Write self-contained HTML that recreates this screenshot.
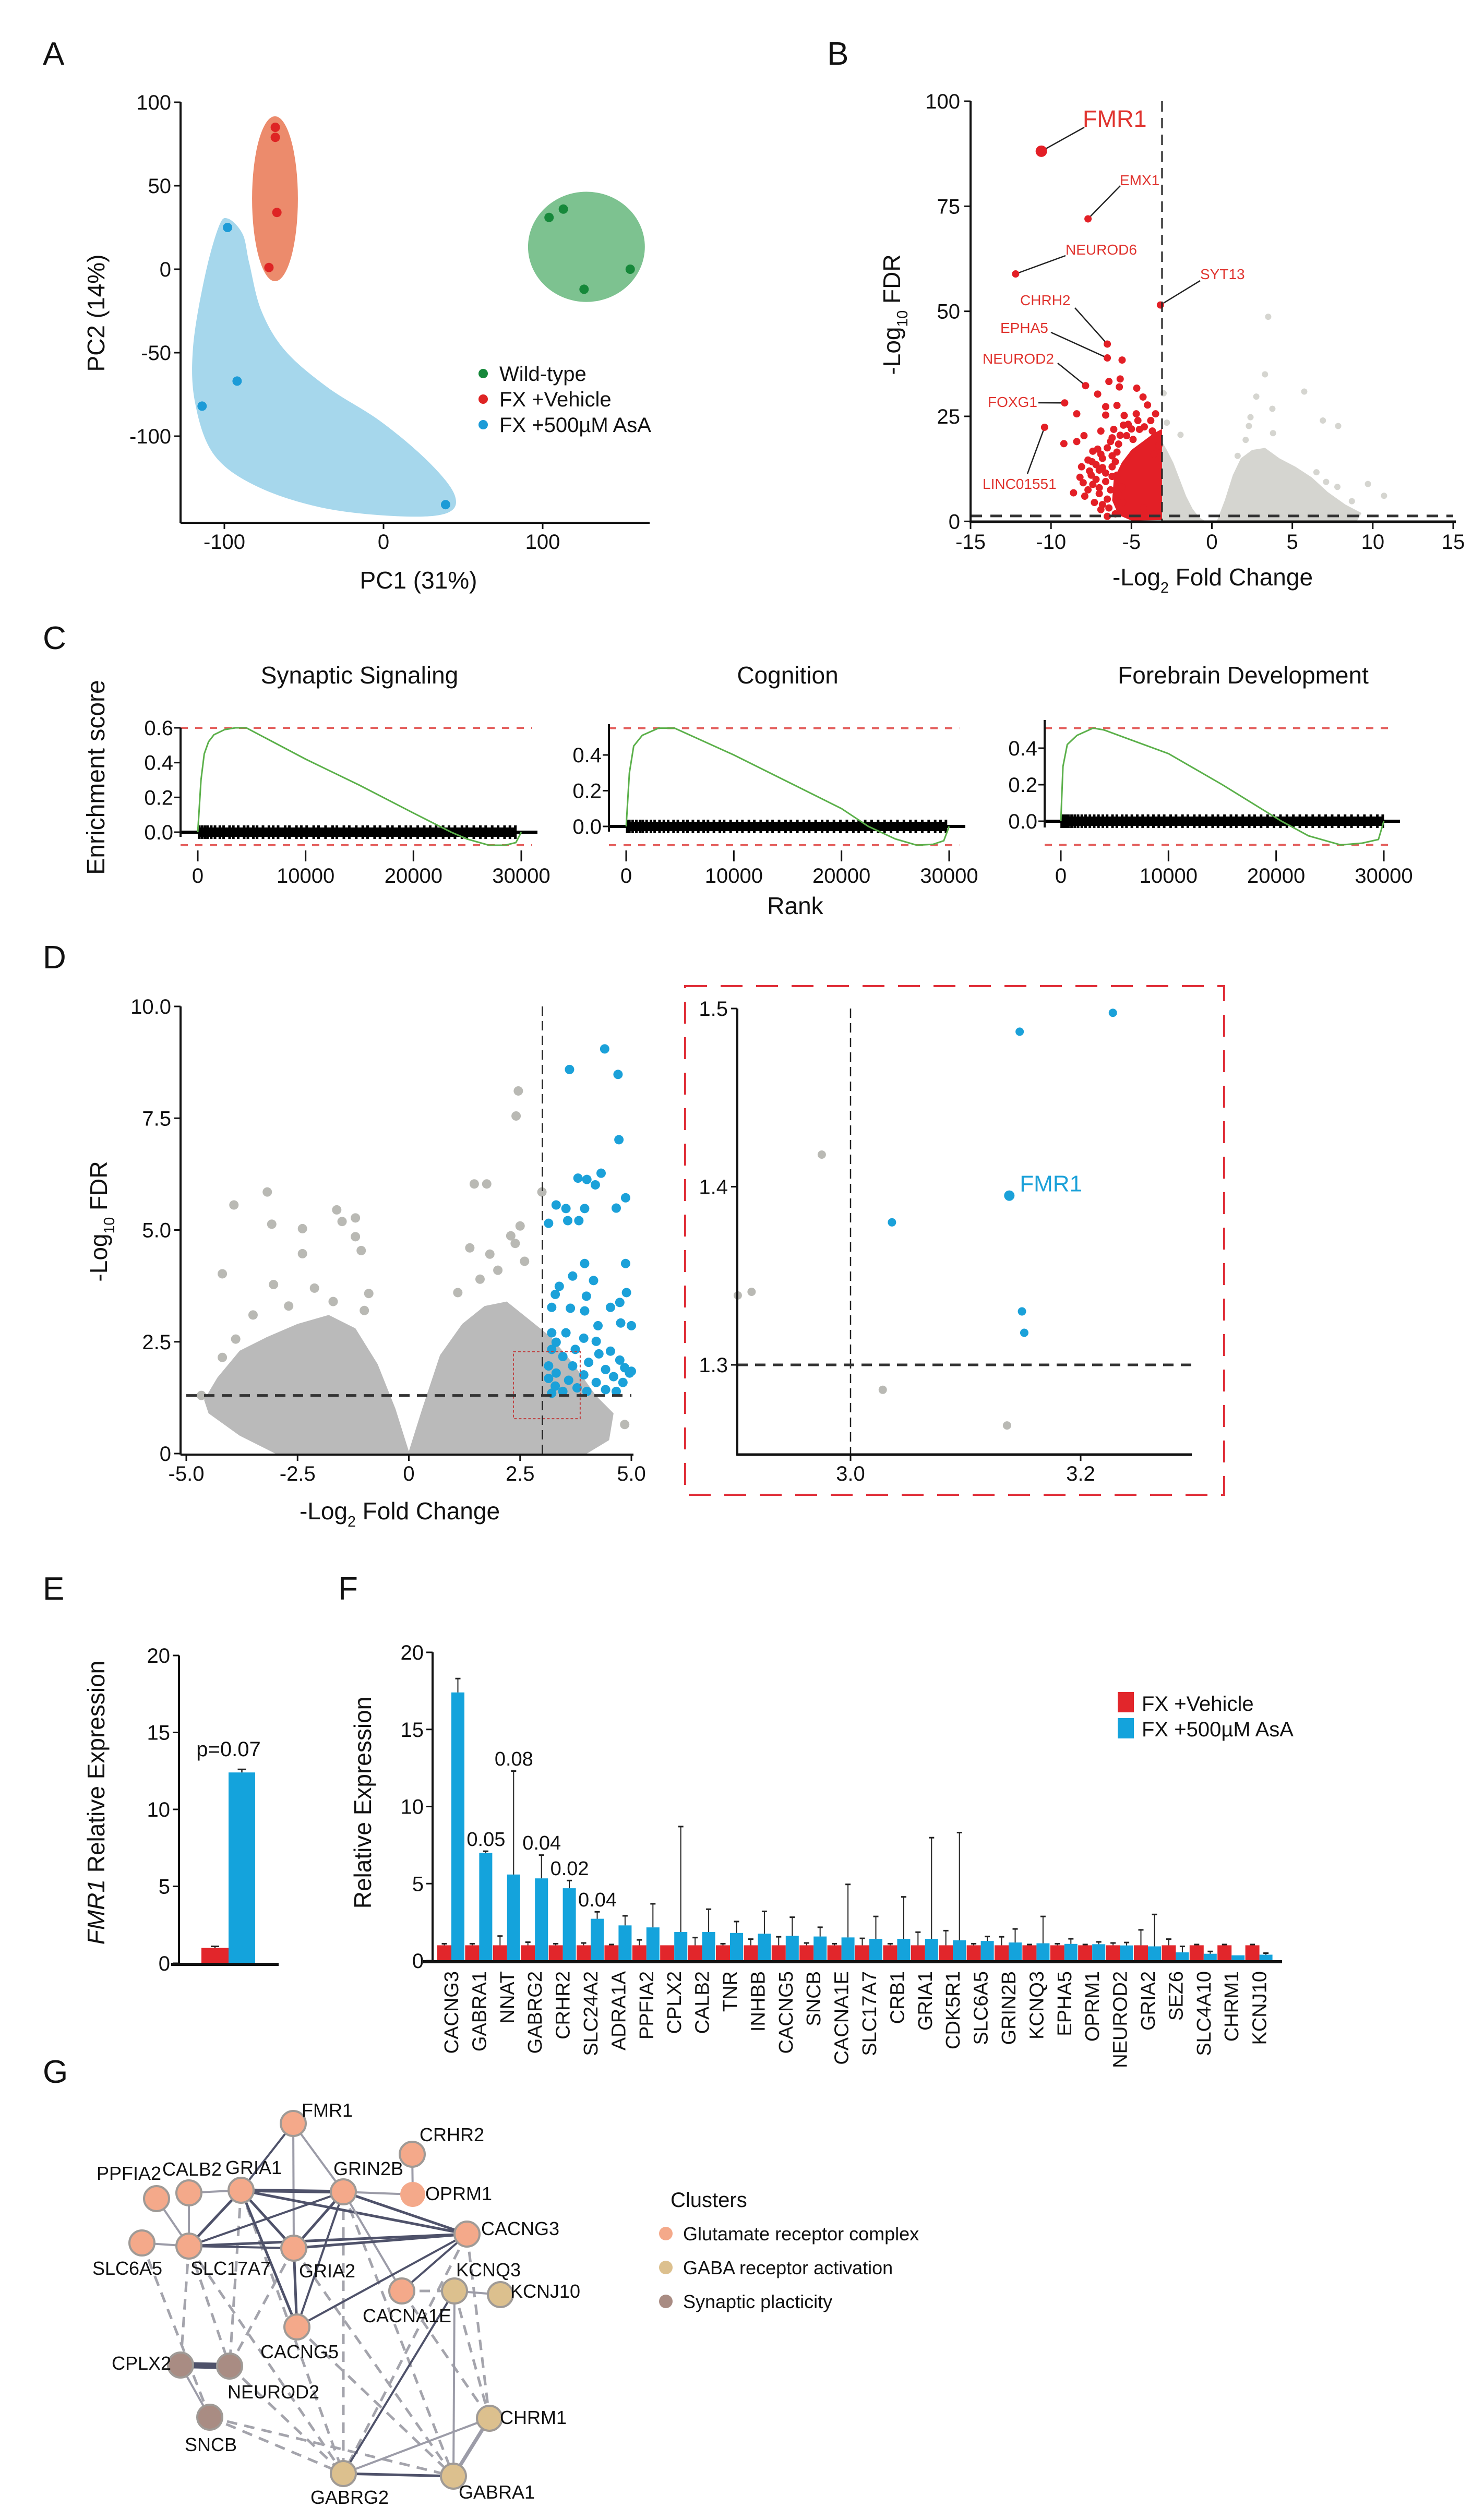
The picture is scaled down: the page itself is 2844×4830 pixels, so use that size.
<!DOCTYPE html>
<html><head><meta charset="utf-8">
<style>
body{margin:0;background:#fff}
svg{display:block;font-family:"Liberation Sans",Arial,sans-serif}
</style></head>
<body>
<svg id="fig" width="2844" height="4830" viewBox="0 0 2844 4830" xmlns="http://www.w3.org/2000/svg"></svg>
<script>
// ---------------- DATA ----------------
const pcaWT=[[104,31],[113,36],[155,0],[126,-12]];
const pcaVeh=[[-68,85],[-68,79],[-67,34],[-72,1]];
const pcaAsA=[[-98,25],[-92,-67],[-114,-82],[39,-141]];
const pcaVehHull=[-68.2,42.2,14.4,49.4];
const pcaWTHull=[127.5,13.4,36.7,33];
const pcaAsAHull=[[-97.7,30.3],[-88.5,21],[-84.3,3.4],[-76.7,-25],[-61.6,-49],[-34.8,-71],[-2,-91],[27.9,-115],[44.6,-135],[40,-146],[10.2,-148],[-37.7,-143],[-79.7,-130],[-106.6,-111],[-118.4,-80],[-119.7,-47],[-112.5,-5.3],[-103.6,25.3]];
const pcaYTicks=[100,50,0,-50,-100];
const pcaXTicks=[-100,0,100];
const pcaLegend=["Wild-type","FX +Vehicle","FX +500\u00b5M AsA"];

const bNames=["FMR1","EMX1","NEUROD6","SYT13","CHRH2","EPHA5","NEUROD2","FOXG1","LINC01551"];
const bNamedX=[-10.6,-7.7,-12.2,-3.2,-6.5,-6.5,-7.85,-9.15,-10.4];
const bNamedY=[88.1,72.0,58.9,51.5,42.2,38.9,32.3,28.2,22.4];
const bRedPts=[[-5.58,38.4],[-5.7,33.9],[-6.4,33.3],[-5.75,32],[-4.67,31.7],[-7.1,30.3],[-4.28,29.6],[-4.0,27.7],[-6.6,27.3],[-5.9,27.6],[-8.4,25.6],[-6.6,25.3],[-5.45,25.2],[-4.7,25.6],[-3.5,25.6],[-3.8,24],[-4.5,21.9],[-6.1,21.9],[-6.9,21.5],[-5.5,22.9],[-5.2,23.1],[-3.7,21.5],[-7.95,20.4],[-6.2,19.9],[-5.3,20.4],[-8.4,19],[-9.2,18.5],[-5.8,18.4],[-7.4,16.7],[-6.9,16],[-6.2,15.6],[-7.7,14.6],[-7.45,14.2],[-6.0,14.2],[-7.0,12.2],[-6.2,10.7],[-8.0,9.2],[-7.4,8.8],[-7.7,7.5],[-7.0,6.6],[-6.5,5.3],[-5.6,8.2],[-5.55,4.5],[-4.25,3.2],[-3.3,18],[-3.6,16],[-4.9,19.5],[-6.6,11.5],[-7.2,10],[-6.8,4],[-7.6,12],[-7.2,13.5],[-6.8,15],[-8.2,10.5],[-7.9,6],[-7.3,4.5],[-6.9,2.8],[-6.4,3.2],[-6.3,7.5],[-6.6,9.5],[-5.9,11],[-5.8,6.5],[-6.2,13],[-6.8,12.8],[-7.5,11],[-6.0,1.8],[-6.5,1.2],[-7.0,8],[-8.6,6.8],[-8.1,13],[-5.9,16.5],[-6.5,17.5],[-7.1,17.2],[-6.3,19],[-5.7,20.5],[-5.0,22],[-4.6,24],[-4.2,22.5]];
const bRedCore=[[-3.1,0.3],[-3.1,22],[-3.6,21],[-4.3,19],[-5.0,17],[-5.6,14],[-6.1,10],[-6.2,5],[-5.8,1.5],[-5.0,0.2]];
const bGrayLeft=[[-3.1,0],[-3.1,19],[-2.8,17],[-2.4,14],[-2,10],[-1.6,6],[-1.2,3],[-0.8,1],[-0.4,0]];
const bGrayRight=[[0.3,0],[0.8,5],[1.3,11],[1.8,15],[2.5,17],[3.3,17.5],[4.2,15],[5.2,13],[6.2,10.5],[7.2,7],[8.3,4],[9.3,2],[9.0,0]];
const bGrayPts=[[3.5,48.7],[3.3,35],[5.74,30.9],[2.76,29.7],[3.76,26.8],[2.4,24.8],[6.9,24],[7.85,22.7],[2.3,22.7],[3.8,21],[2.1,19.4],[-3.0,30.5],[-2.8,23.5],[-1.95,20.6],[1.6,15.6],[4.9,12.4],[9.7,8.9],[10.7,6.1],[8.7,4.8],[6.5,11.7],[7.1,9.4],[7.8,8.2]];
const bYTicks=[0,25,50,75,100];
const bXTicks=[-15,-10,-5,0,5,10,15];
const bFCcut=-3.1, bFDRcut=1.3;

const gseaTitles=["Synaptic Signaling","Cognition","Forebrain Development"];
const es1Rank=[0,300,600,1000,1500,2500,3500,4500,10000,15000,20000,23500,25000,27000,28500,29500,30000];
const es1Val=[0,0.3,0.45,0.52,0.56,0.59,0.6,0.6,0.42,0.27,0.11,0,-0.04,-0.075,-0.075,-0.06,0];
const es2Rank=[0,300,700,1500,3000,4500,10000,15000,20000,22500,25000,27000,28500,29500,30000];
const es2Val=[0,0.3,0.45,0.51,0.55,0.55,0.4,0.25,0.1,0,-0.07,-0.105,-0.1,-0.08,0];
const es3Rank=[0,200,600,1500,3000,4000,10000,15000,20500,23000,26000,28000,29500,30000];
const es3Val=[0,0.3,0.42,0.47,0.51,0.5,0.37,0.2,0,-0.08,-0.13,-0.12,-0.1,0];
const hits1=[120,380,650,900,1250,1600,2050,2400,2950,3300,3750,4300,4650,5150,5500,6050,6600,7000,7450,8100,8500,9150,9600,10100,10750,11200,11850,12500,12900,13550,14050,14700,15300,15750,16400,16900,17600,18050,18700,19300,19750,20400,21000,21550,22100,22750,23300,23850,24500,24950,25600,26200,26700,27300,27850,28450,28950,29450];
const hits2=[100,300,600,950,1300,1550,1900,2300,2650,3100,3500,3900,4400,4800,5300,5700,6200,6700,7200,7600,8150,8700,9100,9700,10300,10800,11400,11900,12500,13100,13600,14200,14800,15300,15900,16500,17000,17600,18200,18700,19300,19900,20500,21100,21600,22200,22800,23400,24000,24600,25200,25800,26400,26900,27500,28100,28700,29200,29700];
const hits3=[80,250,480,700,1000,1300,1600,1950,2300,2700,3100,3500,3900,4300,4800,5200,5700,6100,6600,7100,7600,8100,8600,9100,9600,10200,10700,11300,11800,12400,12900,13500,14100,14600,15200,15800,16300,16900,17500,18000,18600,19200,19800,20400,21000,21600,22200,22800,23400,24000,24600,25200,25800,26400,27000,27600,28200,28800,29400,29900];
const c1YTicks=[0,0.2,0.4,0.6], c2YTicks=[0,0.2,0.4], c3YTicks=[0,0.2,0.4];
const cXTicks=[0,10000,20000,30000];

const dBlue=[[4.40,9.05],[3.61,8.59],[4.70,8.48],[4.72,7.02],[4.32,6.27],[3.80,6.16],[4.0,6.13],[4.19,6.01],[4.87,5.72],[3.31,5.56],[3.53,5.48],[3.95,5.48],[4.66,5.49],[3.14,5.15],[3.57,5.21],[3.82,5.21],[3.95,4.25],[4.87,4.25],[3.68,3.97],[4.15,3.87],[3.38,3.74],[3.29,3.56],[4.89,3.60],[3.99,3.52],[4.74,3.38],[3.21,3.27],[3.63,3.25],[3.95,3.19],[4.53,3.27],[4.76,2.92],[5.0,2.86],[4.25,2.86],[3.21,2.70],[3.53,2.70],[3.93,2.58],[3.31,2.49],[4.21,2.51],[3.74,2.33],[3.21,2.33],[4.53,2.29],[3.46,2.17],[4.27,2.23],[4.04,2.04],[4.74,2.09],[3.14,1.96],[3.68,1.96],[4.42,1.88],[4.85,1.92],[4.96,1.80],[3.31,1.80],[3.93,1.76],[4.6,1.72],[3.14,1.68],[3.59,1.64],[4.21,1.59],[4.81,1.59],[3.29,1.51],[3.78,1.47],[4.42,1.43],[3.46,1.39],[4.0,1.39],[4.66,1.39],[3.21,1.35],[5.0,1.84]];
const dGrayPts=[[2.46,8.11],[2.41,7.55],[1.47,6.03],[1.75,6.03],[2.99,5.85],[-3.18,5.85],[-3.93,5.56],[-1.62,5.45],[-1.20,5.27],[-1.50,5.19],[-3.08,5.13],[-2.39,5.03],[2.50,5.09],[2.29,4.87],[-1.20,4.85],[1.37,4.60],[2.39,4.70],[-1.07,4.54],[-2.39,4.47],[1.82,4.46],[-4.19,4.02],[-3.04,3.78],[-2.12,3.70],[-0.9,3.58],[-4.19,2.15],[-4.66,1.30],[-3.89,2.56],[4.85,0.65],[-2.7,3.3],[-1.7,3.4],[1.1,3.6],[1.6,3.9],[2.0,4.1],[2.6,4.3],[-3.5,3.1],[-1.0,3.2]];
const dGrayHull=[[-4.6,1.2],[-4.3,1.7],[-3.8,2.3],[-3.2,2.6],[-2.5,2.9],[-1.8,3.1],[-1.2,2.8],[-0.7,2.0],[-0.3,1.0],[0,0.05],[0.3,1.0],[0.7,2.2],[1.2,2.9],[1.7,3.3],[2.2,3.4],[2.7,3.0],[3.2,2.6],[3.7,2.0],[4.2,1.3],[4.6,0.9],[4.5,0.3],[4.0,0],[-3.0,0],[-3.8,0.4],[-4.5,0.9]];
const dYTicks=[0,2.5,5,7.5,10], dYLabels=["0","2.5","5.0","7.5","10.0"];
const dXTicks=[-5,-2.5,0,2.5,5], dXLabels=["-5.0","-2.5","0","2.5","5.0"];
const dBox=[2.35,3.85,0.78,2.28];
const zBlue=[[3.228,1.4976],[3.147,1.487],[3.036,1.380],[3.149,1.330],[3.151,1.318]];
const zFMR1=[3.138,1.395];
const zGray=[[2.975,1.418],[3.028,1.286],[3.136,1.266],[2.914,1.341],[2.902,1.339]];
const zYTicks=[1.3,1.4,1.5], zXTicks=[3.0,3.2];

const eValues=[1.0,12.4], eErr=[1.1,12.6], ePText="p=0.07";
const eYTicks=[0,5,10,15,20];

const genes=["CACNG3","GABRA1","NNAT","GABRG2","CRHR2","SLC24A2","ADRA1A","PPFIA2","CPLX2","CALB2","TNR","INHBB","CACNG5","SNCB","CACNA1E","SLC17A7","CRB1","GRIA1","CDK5R1","SLC6A5","GRIN2B","KCNQ3","EPHA5","OPRM1","NEUROD2","GRIA2","SEZ6","SLC4A10","CHRM1","KCNJ10"];
const vehVals=[1.0,1.0,1.0,1.0,1.0,1.0,1.0,1.0,1.0,1.0,1.0,1.0,1.0,1.0,1.0,1.0,1.0,1.0,1.0,1.0,1.0,1.0,1.0,1.0,1.0,1.0,1.0,1.0,1.0,1.0];
const vehErr=[1.1,1.1,1.6,1.2,1.1,1.15,1.05,1.35,1.0,1.5,1.1,1.4,1.55,1.15,1.1,1.45,1.1,1.85,1.95,1.1,1.55,1.05,1.1,1.05,1.15,2.0,1.4,1.05,1.05,1.05];
const asaVals=[17.4,6.99,5.59,5.34,4.7,2.72,2.29,2.16,1.86,1.86,1.8,1.75,1.61,1.57,1.51,1.42,1.42,1.42,1.32,1.28,1.18,1.13,1.09,1.07,0.99,0.93,0.54,0.45,0.35,0.39];
const asaErr=[18.3,7.1,12.3,6.85,5.2,3.17,2.91,3.69,8.7,3.34,2.54,3.2,2.82,2.17,4.95,2.87,4.14,7.98,8.31,1.57,2.06,2.87,1.42,1.22,1.18,3.0,0.93,0.6,0.35,0.49];
const pGenes=[1,2,3,4,5], pTexts=["0.05","0.08","0.04","0.02","0.04"];
const fYTicks=[0,5,10,15,20];

const nodeNames=["FMR1","CRHR2","GRIA1","GRIN2B","OPRM1","PPFIA2","CALB2","CACNG3","SLC6A5","SLC17A7","GRIA2","CACNA1E","KCNQ3","KCNJ10","CACNG5","CPLX2","NEUROD2","SNCB","CHRM1","GABRG2","GABRA1"];
const nodeCluster=[0,0,0,0,0,0,0,0,0,0,0,0,1,1,0,2,2,2,1,1,1];
const solidEdges=[["FMR1","GRIA1",4,0],["FMR1","GRIN2B",4,1],["FMR1","GRIA2",4,1],["GRIA1","GRIN2B",7,0],["GRIA1","CACNG3",5,0],["GRIA1","SLC17A7",5,0],["GRIA1","GRIA2",5,0],["GRIA1","CACNG5",5,0],["CALB2","GRIA1",4,1],["GRIN2B","OPRM1",4,1],["GRIN2B","SLC17A7",4,0],["GRIN2B","GRIA2",5,0],["GRIN2B","CACNG3",5,0],["GRIN2B","CACNG5",4,0],["GRIN2B","CACNA1E",4,1],["CRHR2","OPRM1",4,1],["CALB2","SLC17A7",4,1],["PPFIA2","SLC17A7",4,1],["SLC6A5","SLC17A7",4,1],["SLC17A7","CACNG3",5,0],["SLC17A7","GRIA2",4,0],["GRIA2","CACNG3",5,0],["GRIA2","CACNG5",5,0],["CACNG3","CACNG5",4,0],["CACNG3","CACNA1E",4,0],["KCNQ3","KCNJ10",4,1],["CPLX2","NEUROD2",12,0],["CPLX2","SNCB",4,1],["KCNQ3","GABRG2",4,0],["KCNQ3","GABRA1",4,1],["GABRG2","GABRA1",5,0],["GABRG2","CHRM1",4,1],["CHRM1","GABRA1",7,1]];
const dashedEdges=[["SLC6A5","SNCB"],["SLC17A7","NEUROD2"],["SLC17A7","CPLX2"],["GRIA2","NEUROD2"],["GRIA2","GABRA1"],["GRIA1","GABRG2"],["GRIN2B","GABRA1"],["GRIN2B","GABRG2"],["CACNG3","GABRG2"],["CACNG5","GABRA1"],["SNCB","GABRG2"],["SNCB","GABRA1"],["KCNQ3","CHRM1"],["CACNA1E","KCNQ3"],["NEUROD2","GABRG2"],["SLC17A7","GABRG2"],["GRIA1","NEUROD2"],["CACNG3","CHRM1"],["CACNA1E","CHRM1"]];
const clusterNames=["Glutamate receptor complex","GABA receptor activation","Synaptic placticity"];

// ---------------- HELPERS ----------------
const NS="http://www.w3.org/2000/svg";
const svg=document.getElementById('fig');
function mk(tag,attrs,parent){const e=document.createElementNS(NS,tag);for(const k in attrs)e.setAttribute(k,attrs[k]);(parent||svg).appendChild(e);return e;}
function nm(e,name){
  
  
  return e;}
function lin(d0,d1,r0,r1){return v=>r0+(v-d0)*(r1-r0)/(d1-d0);}
function txt(x,y,s,size,o,parent){o=o||{};const e=mk('text',{x:x,y:y,'font-size':size,fill:o.fill||'#111','text-anchor':o.anchor||'start'},parent);if(o.rot)e.setAttribute('transform','rotate('+o.rot+' '+x+' '+y+')');if(o.style)e.setAttribute('font-style',o.style);e.textContent=s;return e;}
function line(x1,y1,x2,y2,st,w,parent,dash){const e=mk('line',{x1:x1,y1:y1,x2:x2,y2:y2,stroke:st,'stroke-width':w},parent);if(dash)e.setAttribute('stroke-dasharray',dash);return e;}
function crPath(pts){let n=pts.length,d='M'+pts[0][0]+','+pts[0][1];for(let i=0;i<n;i++){const p0=pts[(i-1+n)%n],p1=pts[i],p2=pts[(i+1)%n],p3=pts[(i+2)%n];d+=' C'+(p1[0]+(p2[0]-p0[0])/6)+','+(p1[1]+(p2[1]-p0[1])/6)+' '+(p2[0]-(p3[0]-p1[0])/6)+','+(p2[1]-(p3[1]-p1[1])/6)+' '+p2[0]+','+p2[1];}return d+'Z';}
function poly(pts){return pts.map(p=>p[0]+','+p[1]).join(' ');}
function group(name){const g=mk('g',{});nm(g,name);return g;}
function panelLetter(l,x,y){nm(txt(x,y,l,62,{}),'panel-label-'+l.toLowerCase());}
function subLabel(x,y,pre,sub,post,size,rot,parent){const e=mk('text',{x:x,y:y,'font-size':size,fill:'#111','text-anchor':'middle'},parent);if(rot)e.setAttribute('transform','rotate('+rot+' '+x+' '+y+')');e.appendChild(document.createTextNode(pre));const t=mk('tspan',{dy:size*0.3,'font-size':size*0.62},e);t.textContent=sub;const t2=mk('tspan',{dy:-size*0.3},e);t2.textContent=post;return e;}

// ---------------- PANEL A ----------------
(function(){
const g=group('panel-a-pca');
panelLetter('A',82,124);
const X=lin(-100,100,430,1040),Y=lin(-100,100,836,196);
const hb=mk('path',{d:crPath(pcaAsAHull.map(p=>[X(p[0]),Y(p[1])])),fill:'#a6d7ec'},g);nm(hb,'asa-cluster-hull');
const hr=mk('ellipse',{cx:X(pcaVehHull[0]),cy:Y(pcaVehHull[1]),rx:pcaVehHull[2]*3.05,ry:pcaVehHull[3]*3.2,fill:'#ec8b6c'},g);nm(hr,'vehicle-cluster-hull');
const hg=mk('ellipse',{cx:X(pcaWTHull[0]),cy:Y(pcaWTHull[1]),rx:pcaWTHull[2]*3.05,ry:pcaWTHull[3]*3.2,fill:'#7dc290'},g);nm(hg,'wildtype-cluster-hull');
[[pcaWT,'#16883a','wildtype'],[pcaVeh,'#de2424','vehicle'],[pcaAsA,'#1c9bd7','asa']].forEach(s=>{s[0].forEach(p=>{const c=mk('circle',{cx:X(p[0]),cy:Y(p[1]),r:9,fill:s[1]},g);nm(c,s[2]+'-point');});});
nm(line(346,196,346,1002,'#111',4,g),'y-axis');
nm(line(346,1002,1245,1002,'#111',4,g),'x-axis');
pcaYTicks.forEach(v=>{line(334,Y(v),346,Y(v),'#111',3,g);nm(txt(328,Y(v)+14,String(v),40,{anchor:'end'},g),'y-tick-label');});
pcaXTicks.forEach(v=>{line(X(v),1002,X(v),1014,'#111',3,g);nm(txt(X(v),1052,String(v),40,{anchor:'middle'},g),'x-tick-label');});
nm(txt(200,600,'PC2 (14%)',46,{anchor:'middle',rot:-90},g),'y-axis-title');
nm(txt(802,1128,'PC1 (31%)',46,{anchor:'middle'},g),'x-axis-title');
const cols=['#16883a','#de2424','#1c9bd7'];
pcaLegend.forEach((s,i)=>{const y=716+i*49;nm(mk('circle',{cx:926,cy:y,r:9,fill:cols[i]},g),'legend-marker');nm(txt(957,y+14,s,40,{},g),'legend-entry');});
})();

// ---------------- PANEL B ----------------
(function(){
const g=group('panel-b-volcano');
panelLetter('B',1585,124);
const X=lin(-15,15,1860,2785),Y=lin(25,100,798,194);
nm(mk('polygon',{points:poly(bGrayLeft.map(p=>[X(p[0]),Y(p[1])])),fill:'#d5d5d0'},g),'ns-gene-cloud');
nm(mk('polygon',{points:poly(bGrayRight.map(p=>[X(p[0]),Y(p[1])])),fill:'#d5d5d0'},g),'ns-gene-cloud');
bGrayPts.forEach(p=>{nm(mk('circle',{cx:X(p[0]),cy:Y(p[1]),r:6,fill:'#d5d5d0'},g),'ns-gene-point');});
nm(mk('polygon',{points:poly(bRedCore.map(p=>[X(p[0]),Y(p[1])])),fill:'#e31f26'},g),'sig-gene-cloud');
bRedPts.forEach(p=>{nm(mk('circle',{cx:X(p[0]),cy:Y(p[1]),r:7,fill:'#e31f26'},g),'sig-gene-point');});
const lab=[[2075,243,2078,244,45],[2146,355,2147,356,28],[2042,488,2042,490,28],[2300,535,2300,538,28],[1955,585,2060,590,28],[1917,638,2014,637,28],[1883,697,2027,696,28],[1893,780,1990,772,28],[1883,937,1969,908,28]];
bNames.forEach((n,i)=>{const px=X(bNamedX[i]),py=Y(bNamedY[i]);nm(line(px,py,lab[i][2],lab[i][3],'#222',2.5,g),'leader-line');nm(mk('circle',{cx:px,cy:py,r:i==0?11:7,fill:'#e31f26'},g),'labeled-gene-point');nm(txt(lab[i][0],lab[i][1],n,lab[i][4],{fill:'#e0342f'},g),'gene-label');});
nm(line(X(bFCcut),194,X(bFCcut),999,'#222',3,g,'20,12'),'fold-change-threshold');
nm(line(1860,Y(bFDRcut),2785,Y(bFDRcut),'#333',5,g,'22,16'),'fdr-threshold');
nm(line(1860,194,1860,1000,'#111',4,g),'y-axis');
nm(line(1858,1000,2790,1000,'#111',5,g),'x-axis');
bYTicks.forEach(v=>{line(1848,Y(v),1860,Y(v),'#111',3,g);nm(txt(1840,Y(v)+14,String(v),40,{anchor:'end'},g),'y-tick-label');});
bXTicks.forEach(v=>{line(X(v),1000,X(v),1014,'#111',3,g);nm(txt(X(v),1052,String(v),40,{anchor:'middle'},g),'x-tick-label');});
nm(subLabel(1725,603,'-Log','10',' FDR',46,-90,g),'y-axis-title');
nm(subLabel(2324,1122,'-Log','2',' Fold Change',46,0,g),'x-axis-title');
})();

// ---------------- PANEL C ----------------
(function(){
const g=group('panel-c-gsea');
panelLetter('C',82,1244);
const cfg=[
 {ax:346,x0:379,x1:999,y0:1595,y1:1395,v1:0.6,top:1395,bot:1604,r:es1Rank,v:es1Val,h:hits1,t:c1YTicks},
 {ax:1167,x0:1200,x1:1819,y0:1584,y1:1447,v1:0.4,top:1388,bot:1594,r:es2Rank,v:es2Val,h:hits2,t:c2YTicks},
 {ax:2002,x0:2033,x1:2652,y0:1574,y1:1434,v1:0.4,top:1380,bot:1586,r:es3Rank,v:es3Val,h:hits3,t:c3YTicks}];
cfg.forEach((c,k)=>{
 const pg=mk('g',{},g);nm(pg,'gsea-plot-'+(k+1));
 const X=lin(0,30000,c.x0,c.x1),Y=lin(0,c.v1,c.y0,c.y1);
 nm(txt((c.x0+c.x1)/2+(k==2?40:0),1310,gseaTitles[k],46,{anchor:'middle'},pg),'plot-title');
 const mx=Math.max(...c.v),mn=Math.min(...c.v);
 nm(line(c.ax,Y(mx),X(31000),Y(mx),'#e4605e',4,pg,'14,14'),'max-es-line');
 nm(line(c.ax,Y(mn),X(31000),Y(mn),'#e4605e',4,pg,'14,14'),'min-es-line');
 nm(line(c.ax,c.y0,X(31500),c.y0,'#000',6,pg),'zero-baseline');
 const hmin=Math.min(...c.h),hmax=Math.max(...c.h);
 nm(mk('rect',{x:X(hmin),y:c.y0-9,width:X(hmax)-X(hmin),height:18,fill:'#000'},pg),'hit-band');
 c.h.forEach(r=>{nm(line(X(r),c.y0-13,X(r),c.y0+13,'#000',5,pg),'hit-tick');});
 nm(mk('polyline',{points:poly(c.r.map((r,i)=>[X(r),Y(c.v[i])])),fill:'none',stroke:'#5bb04a','stroke-width':3},pg),'enrichment-curve');
 nm(line(c.ax,c.top,c.ax,c.bot,'#111',4,pg),'y-axis');
 c.t.forEach(v=>{line(c.ax-12,Y(v),c.ax,Y(v),'#111',3,pg);nm(txt(c.ax-14,Y(v)+14,v.toFixed(1),40,{anchor:'end'},pg),'y-tick-label');});
 cXTicks.forEach(v=>{line(X(v),1630,X(v),1651,'#111',3,pg);nm(txt(X(v),1692,String(v),40,{anchor:'middle'},pg),'x-tick-label');});
});
nm(txt(200,1490,'Enrichment score',48,{anchor:'middle',rot:-90},g),'y-axis-title');
nm(txt(1524,1752,'Rank',46,{anchor:'middle'},g),'x-axis-title');
})();

// ---------------- PANEL D ----------------
(function(){
const g=group('panel-d-volcano');
panelLetter('D',82,1856);
const X=lin(-5,5,357,1210),Y=lin(0,10,2786,1929);
nm(mk('polygon',{points:poly(dGrayHull.map(p=>[X(p[0]),Y(p[1])])),fill:'#bababa'},g),'ns-gene-cloud');
dGrayPts.forEach(p=>{nm(mk('circle',{cx:X(p[0]),cy:Y(p[1]),r:9,fill:'#b9b9b4'},g),'ns-gene-point');});
dBlue.forEach(p=>{nm(mk('circle',{cx:X(p[0]),cy:Y(p[1]),r:9,fill:'#1ba1d9'},g),'sig-gene-point');});
nm(mk('rect',{x:X(dBox[0]),y:Y(dBox[3]),width:X(dBox[1])-X(dBox[0]),height:Y(dBox[2])-Y(dBox[3]),fill:'none',stroke:'#c04040','stroke-width':2,'stroke-dasharray':'5,4'},g),'zoom-region-box');
nm(line(X(3),1929,X(3),2786,'#222',2.5,g,'18,10'),'fold-change-threshold');
nm(line(X(-5),Y(1.3),X(5),Y(1.3),'#333',5,g,'20,14'),'fdr-threshold');
nm(line(346,1929,346,2788,'#111',4,g),'y-axis');
nm(line(346,2788,1214,2788,'#111',4,g),'x-axis');
dYTicks.forEach((v,i)=>{line(334,Y(v),346,Y(v),'#111',3,g);nm(txt(328,Y(v)+14,dYLabels[i],40,{anchor:'end'},g),'y-tick-label');});
dXTicks.forEach((v,i)=>{line(X(v),2788,X(v),2800,'#111',3,g);nm(txt(X(v),2838,dXLabels[i],40,{anchor:'middle'},g),'x-tick-label');});
nm(subLabel(205,2341,'-Log','10',' FDR',46,-90,g),'y-axis-title');
nm(subLabel(766,2912,'-Log','2',' Fold Change',46,0,g),'x-axis-title');
const z=group('panel-d-zoom-inset');
nm(mk('rect',{x:1313,y:1890,width:1033,height:975,fill:'none',stroke:'#e0303a','stroke-width':4,'stroke-dasharray':'42,26'},z),'inset-frame');
const ZX=lin(3.0,3.2,1630,2071),ZY=lin(1.3,1.5,2616,1933);
nm(line(ZX(3.0),1933,ZX(3.0),2788,'#222',2.5,z,'18,10'),'fold-change-threshold');
nm(line(1413,ZY(1.3),2284,ZY(1.3),'#333',5,z,'20,14'),'fdr-threshold');
zGray.forEach(p=>{nm(mk('circle',{cx:ZX(p[0]),cy:ZY(p[1]),r:8,fill:'#b9b9b4'},z),'ns-gene-point');});
zBlue.forEach(p=>{nm(mk('circle',{cx:ZX(p[0]),cy:ZY(p[1]),r:8,fill:'#1ba1d9'},z),'sig-gene-point');});
nm(mk('circle',{cx:ZX(zFMR1[0]),cy:ZY(zFMR1[1]),r:10,fill:'#1ba1d9'},z),'fmr1-point');
nm(txt(ZX(zFMR1[0])+20,ZY(zFMR1[1])-8,'FMR1',44,{fill:'#1ba1d9'},z),'fmr1-label');
nm(line(1413,1933,1413,2790,'#111',4,z),'y-axis');
nm(line(1413,2788,2284,2788,'#111',5,z),'x-axis');
zYTicks.forEach(v=>{line(1401,ZY(v),1413,ZY(v),'#111',3,z);nm(txt(1395,ZY(v)+14,v.toFixed(1),40,{anchor:'end'},z),'y-tick-label');});
zXTicks.forEach(v=>{line(ZX(v),2788,ZX(v),2800,'#111',3,z);nm(txt(ZX(v),2838,v.toFixed(1),40,{anchor:'middle'},z),'x-tick-label');});
})();

// ---------------- PANEL E ----------------
(function(){
const g=group('panel-e-fmr1');
panelLetter('E',82,3066);panelLetter('F',648,3066);
const Y=lin(0,20,3763,3173);
const cols=['#e2262b','#14a3dc'],xs=[386,438],w=[52,51];
eValues.forEach((v,i)=>{nm(mk('rect',{x:xs[i],y:Y(v),width:w[i],height:Y(0)-Y(v),fill:cols[i]},g),i?'asa-bar':'vehicle-bar');
 const cx=xs[i]+w[i]/2;nm(line(cx,Y(v),cx,Y(eErr[i]),'#222',2.5,g),'error-bar');line(cx-8,Y(eErr[i]),cx+8,Y(eErr[i]),'#222',3,g);});
nm(txt(438,3366,ePText,40,{anchor:'middle'},g),'p-value-label');
nm(line(343,3173,343,3765,'#111',4,g),'y-axis');
nm(line(328,3765,534,3765,'#111',6,g),'x-axis');
eYTicks.forEach(v=>{line(331,Y(v),343,Y(v),'#111',3,g);nm(txt(326,Y(v)+14,String(v),40,{anchor:'end'},g),'y-tick-label');});
const t=mk('text',{x:200,y:3455,'font-size':46,fill:'#111','text-anchor':'middle',transform:'rotate(-90 200 3455)'},g);nm(t,'y-axis-title');
const ti=mk('tspan',{'font-style':'italic'},t);ti.textContent='FMR1';t.appendChild(document.createTextNode(' Relative Expression'));
})();

// ---------------- PANEL F ----------------
(function(){
const g=group('panel-f-expression');
const Y=lin(0,20,3758,3167);
const x0=838,pitch=53.4;
genes.forEach((gn,i)=>{const xr=x0+i*pitch,xb=xr+27;
 nm(mk('rect',{x:xr,y:Y(vehVals[i]),width:27,height:Y(0)-Y(vehVals[i]),fill:'#e2262b'},g),'vehicle-bar-'+gn.toLowerCase());
 nm(mk('rect',{x:xb,y:Y(asaVals[i]),width:25,height:Y(0)-Y(asaVals[i]),fill:'#14a3dc'},g),'asa-bar-'+gn.toLowerCase());
 [[xr+13.5,vehVals[i],vehErr[i]],[xb+12.5,asaVals[i],asaErr[i]]].forEach(e=>{if(e[2]>e[1]){nm(line(e[0],Y(e[1]),e[0],Y(e[2]),'#222',2,g),'error-bar');line(e[0]-5,Y(e[2]),e[0]+5,Y(e[2]),'#222',3,g);}});
 const lx=xr+27+13,ly=3778;nm(txt(lx,ly,gn,38,{anchor:'end',rot:-90},g),'gene-tick-label');
});
pGenes.forEach((gi,k)=>{const cx=x0+gi*pitch+40;const top=Math.max(asaVals[gi],asaErr[gi])+0.35;nm(txt(cx,Y(top),pTexts[k],38,{anchor:'middle'},g),'p-value-label');});
nm(line(829,3167,829,3760,'#111',4,g),'y-axis');
nm(line(811,3760,2457,3760,'#111',6,g),'x-axis');
fYTicks.forEach(v=>{line(817,Y(v),829,Y(v),'#111',3,g);nm(txt(812,Y(v)+14,String(v),40,{anchor:'end'},g),'y-tick-label');});
nm(txt(711,3455,'Relative Expression',46,{anchor:'middle',rot:-90},g),'y-axis-title');
nm(mk('rect',{x:2142,y:3243,width:31,height:39,fill:'#e2262b'},g),'legend-swatch-vehicle');
nm(mk('rect',{x:2142,y:3293,width:31,height:39,fill:'#14a3dc'},g),'legend-swatch-asa');
nm(txt(2188,3279,'FX +Vehicle',40,{},g),'legend-entry');
nm(txt(2188,3328,'FX +500\u00b5M AsA',40,{},g),'legend-entry');
})();

// ---------------- PANEL G ----------------
(function(){
const g=group('panel-g-network');
panelLetter('G',82,3992);
const pos={FMR1:[562,4070],CRHR2:[790,4129],GRIA1:[462,4198],GRIN2B:[658,4201],OPRM1:[791,4206],PPFIA2:[300,4214],CALB2:[362,4203],CACNG3:[895,4282],SLC6A5:[272,4299],SLC17A7:[362,4305],GRIA2:[563,4309],CACNA1E:[770,4391],KCNQ3:[871,4391],KCNJ10:[959,4398],CACNG5:[569,4460],CPLX2:[346,4533],NEUROD2:[440,4535],SNCB:[402,4633],CHRM1:[938,4635],GABRG2:[658,4741],GABRA1:[869,4746]};
const lab={FMR1:[627,4057],CRHR2:[866,4104],GRIA1:[486,4167],GRIN2B:[706,4169],OPRM1:[879,4217],PPFIA2:[247,4178],CALB2:[368,4170],CACNG3:[997,4284],SLC6A5:[244,4360],SLC17A7:[442,4360],GRIA2:[627,4365],KCNQ3:[936,4363],KCNJ10:[1045,4404],CACNA1E:[780,4451],CACNG5:[574,4520],CPLX2:[271,4542],NEUROD2:[524,4597],SNCB:[404,4698],CHRM1:[1022,4646],GABRG2:[670,4799],GABRA1:[952,4789]};
dashedEdges.forEach(e=>{const a=pos[e[0]],b=pos[e[1]];nm(line(a[0],a[1],b[0],b[1],'#a4a4ac',5,g,'20,14'),'dashed-edge');});
solidEdges.forEach(e=>{const a=pos[e[0]],b=pos[e[1]];nm(line(a[0],a[1],b[0],b[1],e[3]?'#9c9ca8':'#4f526a',e[2],g),'edge');});
const fill=['#f4a98a','#dcc08e','#a98c83'];
nodeNames.forEach((n,i)=>{const p=pos[n];nm(mk('circle',{cx:p[0],cy:p[1],r:24,fill:fill[nodeCluster[i]],stroke:n=='OPRM1'?'none':'#9f9a96','stroke-width':4},g),'node-'+n.toLowerCase());
 nm(txt(lab[n][0],lab[n][1],n,36,{anchor:'middle'},g),'node-label');});
nm(txt(1285,4230,'Clusters',40,{},g),'legend-title');
clusterNames.forEach((s,i)=>{const y=4281+i*65;nm(mk('circle',{cx:1276,cy:y,r:13,fill:fill[i]},g),'legend-marker');nm(txt(1309,y+13,s,36,{},g),'legend-entry');});
})();
</script>
</body></html>
